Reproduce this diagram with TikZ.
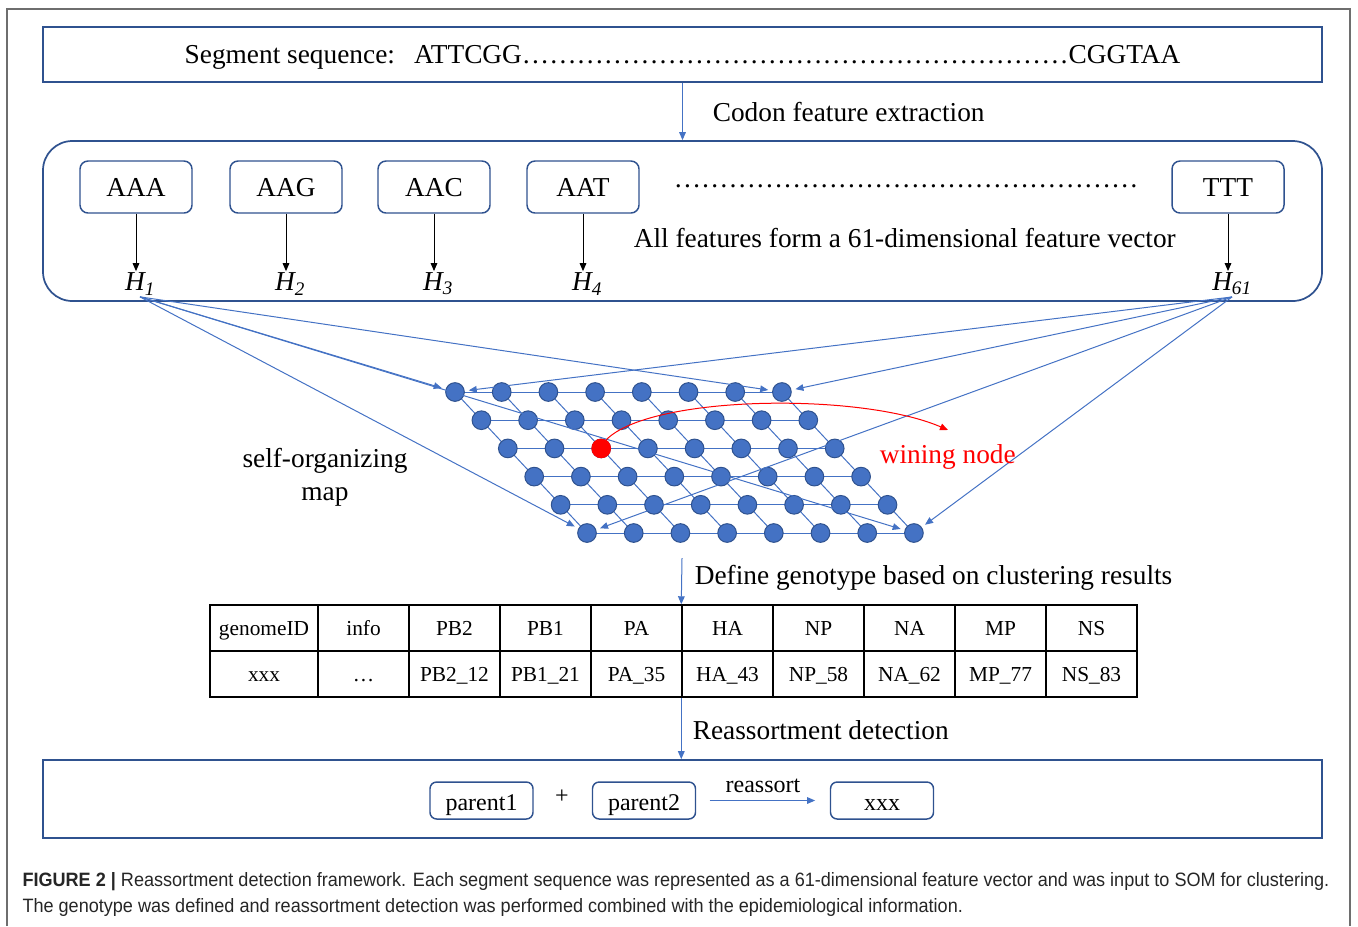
\documentclass[tikz,border=0pt]{standalone}
\usepackage{fontspec}
\setmainfont{Liberation Serif}
\newfontfamily\capfont{Liberation Sans}[FakeStretch=0.935]
\usetikzlibrary{arrows.meta,positioning}

\definecolor{boxblue}{RGB}{47,82,143}
\definecolor{lineblue}{RGB}{68,114,196}
\definecolor{framegray}{RGB}{110,110,110}

\tikzset{every picture/.style={line width=0.75pt},
  txt/.style={font=\fontsize{20.5}{25}\selectfont,inner sep=1pt},
  bigbox/.style={draw=boxblue,line width=1.3pt,minimum width=959.25pt},
  codon/.style={draw=boxblue,line width=1.1pt,rounded corners=6pt,minimum width=84pt,minimum height=39pt,text height=16pt,text depth=2pt,font=\fontsize{20.5}{25}\selectfont},
  hlab/.style={font=\fontsize{20.5}{25}\selectfont\itshape,inner sep=1pt},
  flow/.style={lineblue,-{Triangle[length=6pt,width=5pt]}},
  blk/.style={black,-{Triangle[length=6pt,width=5pt]}},
  unit/.style={circle,fill=lineblue,draw=boxblue,line width=0.75pt,minimum size=14pt,inner sep=0pt},
  cell/.style={draw=black,line width=1.1pt,minimum width=68.25pt,minimum height=34.5pt,text height=14pt,text depth=3pt,font=\fontsize{16}{19}\selectfont},
  pbox/.style={draw=boxblue,line width=1.1pt,rounded corners=5pt,minimum width=77.25pt,minimum height=27.75pt,inner sep=2pt,text height=18pt,text depth=3pt,font=\fontsize{18}{21}\selectfont},
  captxt/.style={anchor=west,inner sep=0pt,text=black!85,font=\capfont\fontsize{14.5}{17}\selectfont}
}

\begin{document}
\begin{tikzpicture}[x=0.75pt,y=0.75pt,yscale=-1,xscale=1]
\useasboundingbox (0,0) rectangle (1358,926);
% page frame
\draw[framegray,line width=1pt] (7,926) -- (7,9) -- (1350,9) -- (1350,926);

% Segment sequence
\node[bigbox,minimum height=41.25pt,txt,text depth=0pt] (seq) at (682.5,54.5) {Segment sequence:\hspace{0.7em}ATTCGG……………………………………………………CGGTAA};

% Feature box
\node[bigbox,rounded corners=22pt,minimum height=120pt] (feat) at (682.5,221) {};
\draw[flow] (seq) -- (feat);
\node[txt,anchor=west] (codlab) at (711,112) {Codon feature extraction};

\foreach \name/\x/\lab/\sub in {aaa/136/AAA/1,aag/286/AAG/2,aac/434/AAC/3,aat/583/AAT/4,ttt/1228/TTT/61}{
  \node[codon] (\name) at (\x,187) {\lab};
  \node[hlab] (h\sub) at (\x+4,284) {H\textsubscript{\sub}};
  \draw[blk] (\name) -- (\name |- h\sub.north);
}
\node[txt,anchor=west] (dots) at (672,186) {……………………………………………};
\node[txt,anchor=west] (alllab) at (632,238) {All features form a 61-dimensional feature vector};

% SOM grid
\foreach \r in {1,...,6}
  \foreach \c in {1,...,8}
    \coordinate (p-\r-\c) at ({455+26.4*(\r-1)+46.7*(\c-1)},{392+28.2*(\r-1)});
\foreach \r in {1,...,6}
  \draw[lineblue] (p-\r-1) -- (p-\r-8);
\foreach \r [evaluate=\r as \rn using int(\r+1)] in {1,...,5}
  \foreach \c in {1,...,8}
    \draw[lineblue] (p-\r-\c) -- (p-\rn-\c);
\foreach \r in {1,...,6}
  \foreach \c in {1,...,8}
    \node[unit] (n-\r-\c) at (p-\r-\c) {};
\node[unit,fill=red,draw=red] (win) at (p-3-3) {};

% inputs to map
\foreach \t in {n-1-1,n-1-8,n-6-1,n-6-8}{
  \draw[flow,shorten >=3pt] (h1.south) -- (\t);
  \draw[flow,shorten >=3pt] (h61.south) -- (\t);
}

% winning node
\coordinate (wintip) at (948,430);
\draw[red,-{Triangle[length=6pt,width=5pt]}] (win.60) .. controls (650,395) and (860,392) .. (wintip);
\node[txt,text=red,anchor=west] (winlab) at (878,457) {wining node};
\node[txt,align=center] (somlab) at (325,477) {self-organizing\\map};

% Genotype table
\coordinate (somout) at (682,558);
\node[cell,minimum width=81pt] (hd-1) at (264,628) {genomeID};
\node[cell,minimum width=81pt] (vl-1) at (264,674) {xxx};
\foreach \hd/\vl [count=\i from 2] in {info/…,PB2/PB2\_12,PB1/PB1\_21,PA/PA\_35,HA/HA\_43,NP/NP\_58,NA/NA\_62,MP/MP\_77,NS/NS\_83}{
  \node[cell] (hd-\i) at ({363.5+91*(\i-2)},628) {\hd};
  \node[cell] (vl-\i) at ({363.5+91*(\i-2)},674) {\vl};
}
\draw[flow] (somout) -- (hd-6.north west);
\node[txt,anchor=west] (deflab) at (693,578) {Define genotype based on clustering results};

% Reassortment
\node[bigbox,minimum height=58.5pt] (det) at (682.5,799) {};
\draw[flow] (vl-6.south west) -- (vl-6.south west |- det.north);
\node[txt,anchor=west] (reslab) at (691,730) {Reassortment detection};

\node[pbox] (par1) at (481.5,800.5) {parent1};
\node[pbox] (par2) at (644,800.5) {parent2};
\node[pbox] (child) at (882,800.5) {xxx};
\node[font=\fontsize{18}{21}\selectfont] (plus) at (562,797) {+};
\draw[flow,shorten <=10pt,shorten >=11pt] (par2) -- (child) node[midway,above=2pt,text=black,font=\fontsize{18}{21}\selectfont] (reas) {reassort};

% Caption
\node[captxt] (cap1) at (22,882) {\textbf{FIGURE 2 |} Reassortment detection framework. Each segment sequence was represented as a 61-dimensional feature vector and was input to SOM for clustering.};
\node[captxt] (cap2) at (22,907) {The genotype was defined and reassortment detection was performed combined with the epidemiological information.};
\end{tikzpicture}
\end{document}
